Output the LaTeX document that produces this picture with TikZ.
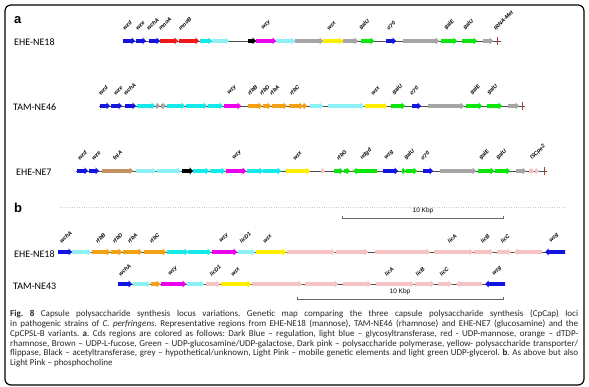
\documentclass[tikz,border=0pt]{standalone}
\usepackage{fontspec}
\setmainfont{Carlito}
\newfontfamily\arialfont{Liberation Sans}
\usetikzlibrary{arrows.meta}

\definecolor{dblue}{RGB}{20,20,225}
\definecolor{gred}{RGB}{235,25,25}
\definecolor{cyanb}{RGB}{20,232,232}
\definecolor{lcyan}{RGB}{140,240,245}
\definecolor{gmag}{RGB}{235,0,235}
\definecolor{ggrey}{RGB}{165,165,165}
\definecolor{gyel}{RGB}{255,238,0}
\definecolor{ggreen}{RGB}{10,230,10}
\definecolor{gorange}{RGB}{242,160,20}
\definecolor{gbrown}{RGB}{195,145,100}
\definecolor{lpink}{RGB}{245,195,195}
\definecolor{markred}{RGB}{170,60,50}

\newcounter{glab}
% gene arrows on the current row \ry
\newcommand{\genR}[3]{%
  \pgfmathsetmacro\hx{max(#2,#3-3.5)}%
  \fill[#1] (#2,\ry-1.8) -- (\hx,\ry-1.8) -- (\hx,\ry-3.5) -- (#3,\ry) -- (\hx,\ry+3.5) -- (\hx,\ry+1.8) -- (#2,\ry+1.8) -- cycle;}
\newcommand{\genL}[3]{%
  \pgfmathsetmacro\hx{min(#3,#2+3.5)}%
  \fill[#1] (#3,\ry-1.8) -- (\hx,\ry-1.8) -- (\hx,\ry-3.5) -- (#2,\ry) -- (\hx,\ry+3.5) -- (\hx,\ry+1.8) -- (#3,\ry+1.8) -- cycle;}
\newcommand{\glab}[2]{\stepcounter{glab}\node[genelab] (gl\arabic{glab}) at (#1,\ry-\ly) {#2};}

\tikzset{
  backbone/.style={draw=black!70, line width=0.8pt},
  genelab/.style={rotate=45, anchor=south west, inner sep=0,
    font=\arialfont\fontsize{5.5}{5.5}\selectfont\bfseries\itshape},
  strain/.style={anchor=west, inner sep=0, font=\fontsize{10}{10}\selectfont},
  panel/.style={anchor=west, inner sep=0, font=\arialfont\bfseries\fontsize{13}{13}\selectfont},
  endmark/.style={draw=markred, line width=0.9pt},
  scalebar/.style={draw=black!60, line width=0.6pt, {Bar[width=3pt]}-{Bar[width=3pt]}},
  kbp/.style={inner sep=0, font=\arialfont\fontsize{6.5}{6.5}\selectfont},
  caption/.style={anchor=north west, inner sep=0, text width=568pt, align=justify,
    font=\fontsize{9}{9.8}\selectfont, text=black!85}
}

\begin{document}
\begin{tikzpicture}[x=1pt, y=-1pt]
  \useasboundingbox (0,0) rectangle (589,387);
  \draw[line width=1.2pt, rounded corners=6pt] (5,5) rectangle (584,385);

  \node[panel] (pa) at (14,20) {a};
  \node[panel] (pb) at (14,208) {b};

  % ---- a: EHE-NE18
  \def\ry{41}\def\ly{10}
  \node[strain] (s1) at (14,42) {EHE-NE18};
  \coordinate (a1s) at (123,\ry); \coordinate (a1e) at (501,\ry);
  \draw[backbone] (a1s) -- (a1e);
  \genR{dblue}{123}{135}\genR{dblue}{136}{146}\genR{dblue}{149}{160}
  \genR{gred}{160}{178}\genR{gred}{179}{199}
  \genR{cyanb}{200}{212}\genR{lcyan}{212}{229}
  \genR{black}{248}{256}\genR{gmag}{256}{276}\genR{lcyan}{276}{295}
  \genR{ggrey}{295}{323}\genR{gyel}{323}{343}\genR{ggrey}{343}{358}
  \genR{ggreen}{361}{374}\genR{dblue}{386}{396}\genR{ggrey}{403}{439}
  \genR{ggreen}{441}{457}\genR{ggreen}{462}{477}\genR{ggrey}{483}{493}
  \draw[endmark] (497,\ry-4) -- (497,\ry+4);
  \glab{125}{wzd}\glab{138}{wze}\glab{149}{wchA}\glab{161}{mnoA}\glab{181}{mnoB}
  \glab{264}{wzy}\glab{329}{wzx}\glab{362}{galU}\glab{389}{σ70}
  \glab{447}{galE}\glab{466}{galU}\glab{496}{tRNA-Met}

  % ---- a: TAM-NE46
  \def\ry{106}
  \node[strain] (s2) at (13,107) {TAM-NE46};
  \coordinate (a2s) at (99,\ry); \coordinate (a2e) at (525,\ry);
  \draw[backbone] (a2s) -- (a2e);
  \genR{dblue}{100}{110}\genR{dblue}{111}{122}\genR{dblue}{125}{136}
  \genR{cyanb}{137}{155}\genR{ggrey}{156}{160}\genR{ggrey}{161}{166}
  \genR{cyanb}{167}{185}\genR{cyanb}{186}{207}\genR{cyanb}{208}{223}
  \genR{gmag}{224}{241}
  \genR{gorange}{248}{262}\genR{gorange}{263}{271}\genR{gorange}{272}{287}
  \genR{gorange}{289}{303}\genR{gorange}{303}{307}
  \genR{lcyan}{310}{323}\genR{lcyan}{328}{364}\genR{gyel}{365}{387}
  \genR{ggreen}{391}{405}\genR{dblue}{412}{421}\genR{ggrey}{428}{464}
  \genR{ggreen}{466}{482}\genR{ggreen}{487}{502}\genR{ggrey}{508}{519}
  \draw[endmark] (522,\ry-4) -- (522,\ry+4);
  \glab{101}{wzd}\glab{116}{wze}\glab{126}{wchA}\glab{230}{wzy}
  \glab{250}{rfbB}\glab{262}{rfbD}\glab{272}{rfbA}\glab{292}{rfbC}
  \glab{373}{wzx}\glab{395}{galU}\glab{412}{σ70}\glab{473}{galE}\glab{490}{galU}

  % ---- a: EHE-NE7
  \def\ry{171}
  \node[strain] (s3) at (16,172) {EHE-NE7};
  \coordinate (a3s) at (76,\ry); \coordinate (a3e) at (547,\ry);
  \draw[backbone] (a3s) -- (a3e);
  \genR{dblue}{77}{88}\genR{dblue}{89}{99}\genR{gbrown}{102}{133}
  \genR{lcyan}{136}{156}\genR{lcyan}{157}{181}\genR{black}{182}{193}
  \genR{cyanb}{193}{209}\genR{cyanb}{210}{225}\genR{gmag}{226}{246}
  \genR{cyanb}{247}{263}\genR{cyanb}{263}{281}\genR{gyel}{286}{310}
  \genR{lpink}{321}{325}
  \genR{ggreen}{334}{343}\genR{ggreen}{344}{350}\genL{ggreen}{353}{377}
  \genR{dblue}{383}{398}\genR{ggreen}{402}{406}\genR{ggreen}{406}{417}
  \genR{dblue}{423}{433}\genR{ggrey}{440}{476}
  \genR{ggreen}{478}{494}\genR{ggreen}{495}{510}\genR{ggrey}{516}{526}
  \genR{lpink}{529}{534}\genR{lpink}{535}{539}
  \draw[endmark] (544,\ry-4) -- (544,\ry+4);
  \glab{80}{wzd}\glab{94}{wze}\glab{115}{fnlA}\glab{235}{wzy}\glab{295}{wzx}
  \glab{339}{rfbG}\glab{363}{udgd}\glab{387}{wzg}\glab{407}{galU}\glab{423}{σ70}
  \glab{482}{galE}\glab{499}{galU}\glab{533}{ISCpe2}

  % ---- b: EHE-NE18
  \coordinate (gd1) at (60,207); \coordinate (gd2) at (565,207);
  \draw[black!20, dotted] (gd1) -- (gd2);
  \coordinate (sb1l) at (342,218); \coordinate (sb1r) at (504,218);
  \draw[scalebar] (sb1l) -- (sb1r);
  \node[kbp] (k1) at (423,211) {10 Kbp};
  \def\ry{252}\def\ly{8}
  \node[strain] (s4) at (14,254) {EHE-NE18};
  \coordinate (b1s) at (58,\ry); \coordinate (b1e) at (565,\ry);
  \draw[backbone] (b1s) -- (b1e);
  \genR{dblue}{58}{72}\genR{lcyan}{72}{91}
  \genR{gorange}{92}{110}\genR{gorange}{111}{122}\genR{gorange}{123}{142}\genR{gorange}{144}{166}
  \genR{cyanb}{167}{188}\genR{cyanb}{188}{211}\genR{gmag}{212}{237}\genR{lcyan}{238}{255}
  \genR{gyel}{256}{286}\genR{lpink}{287}{335}\genR{lpink}{336}{368}\genR{lpink}{375}{430}
  \genR{lpink}{434}{473}\genR{lpink}{474}{493}\genR{lpink}{497}{511}
  \genL{lpink}{514}{542}\genL{dblue}{545}{565}
  \glab{62}{wchA}\glab{98}{rfbB}\glab{115}{rfbD}\glab{130}{rfbA}\glab{152}{rfbC}
  \glab{222}{wzy}\glab{242}{licD1}\glab{265}{wzx}
  \glab{450}{licA}\glab{483}{licB}\glab{503}{licC}\glab{552}{wzg}

  % ---- b: TAM-NE43
  \def\ry{284}\def\ly{7}
  \node[strain] (s5) at (13,286) {TAM-NE43};
  \coordinate (b2s) at (118,\ry); \coordinate (b2e) at (505,\ry);
  \draw[backbone] (b2s) -- (b2e);
  \genR{dblue}{118}{132}\genR{lcyan}{133}{150}\genR{gorange}{151}{160}
  \genR{gmag}{161}{186}\genR{lcyan}{187}{204}\genR{lpink}{206}{220}
  \genR{gyel}{221}{251}\genR{lpink}{252}{302}\genR{lpink}{305}{338}
  \genR{lpink}{343}{371}\genR{lpink}{376}{414}\genR{lpink}{415}{434}
  \genR{lpink}{438}{452}\genL{lpink}{456}{482}\genL{dblue}{485}{505}
  \glab{121}{wchA}\glab{171}{wzy}\glab{212}{licD1}\glab{233}{wzx}
  \glab{387}{licA}\glab{418}{licB}\glab{442}{licC}\glab{495}{wzg}
  \coordinate (sb2l) at (297,299); \coordinate (sb2r) at (504,299);
  \draw[scalebar] (sb2l) -- (sb2r);
  \node[kbp] (k2) at (400,292) {10 Kbp};

  \node[caption] (cap) at (10,310) {\hyphenpenalty=10000\frenchspacing
    \textbf{Fig. 8} Capsule polysaccharide synthesis locus variations. Genetic map comparing the three capsule polysaccharide synthesis (CpCap) loci\linebreak
    in pathogenic strains of \textit{C. perfringens}. Representative regions from EHE-NE18 (mannose), TAM-NE46 (rhamnose) and EHE-NE7 (glucosamine) and the\linebreak
    CpCPSL-B variants. \textbf{a}. Cds regions are colored as follows: Dark Blue – regulation, light blue – glycosyltransferase, red - UDP-mannose, orange – dTDP-\linebreak
    rhamnose, Brown – UDP-L-fucose, Green – UDP-glucosamine/UDP-galactose, Dark pink – polysaccharide polymerase, yellow- polysaccharide transporter/\linebreak
    flippase, Black – acetyltransferase, grey – hypothetical/unknown, Light Pink – mobile genetic elements and light green UDP-glycerol. \textbf{b}. As above but also\linebreak
    Light Pink – phosphocholine};
\end{tikzpicture}
\end{document}
